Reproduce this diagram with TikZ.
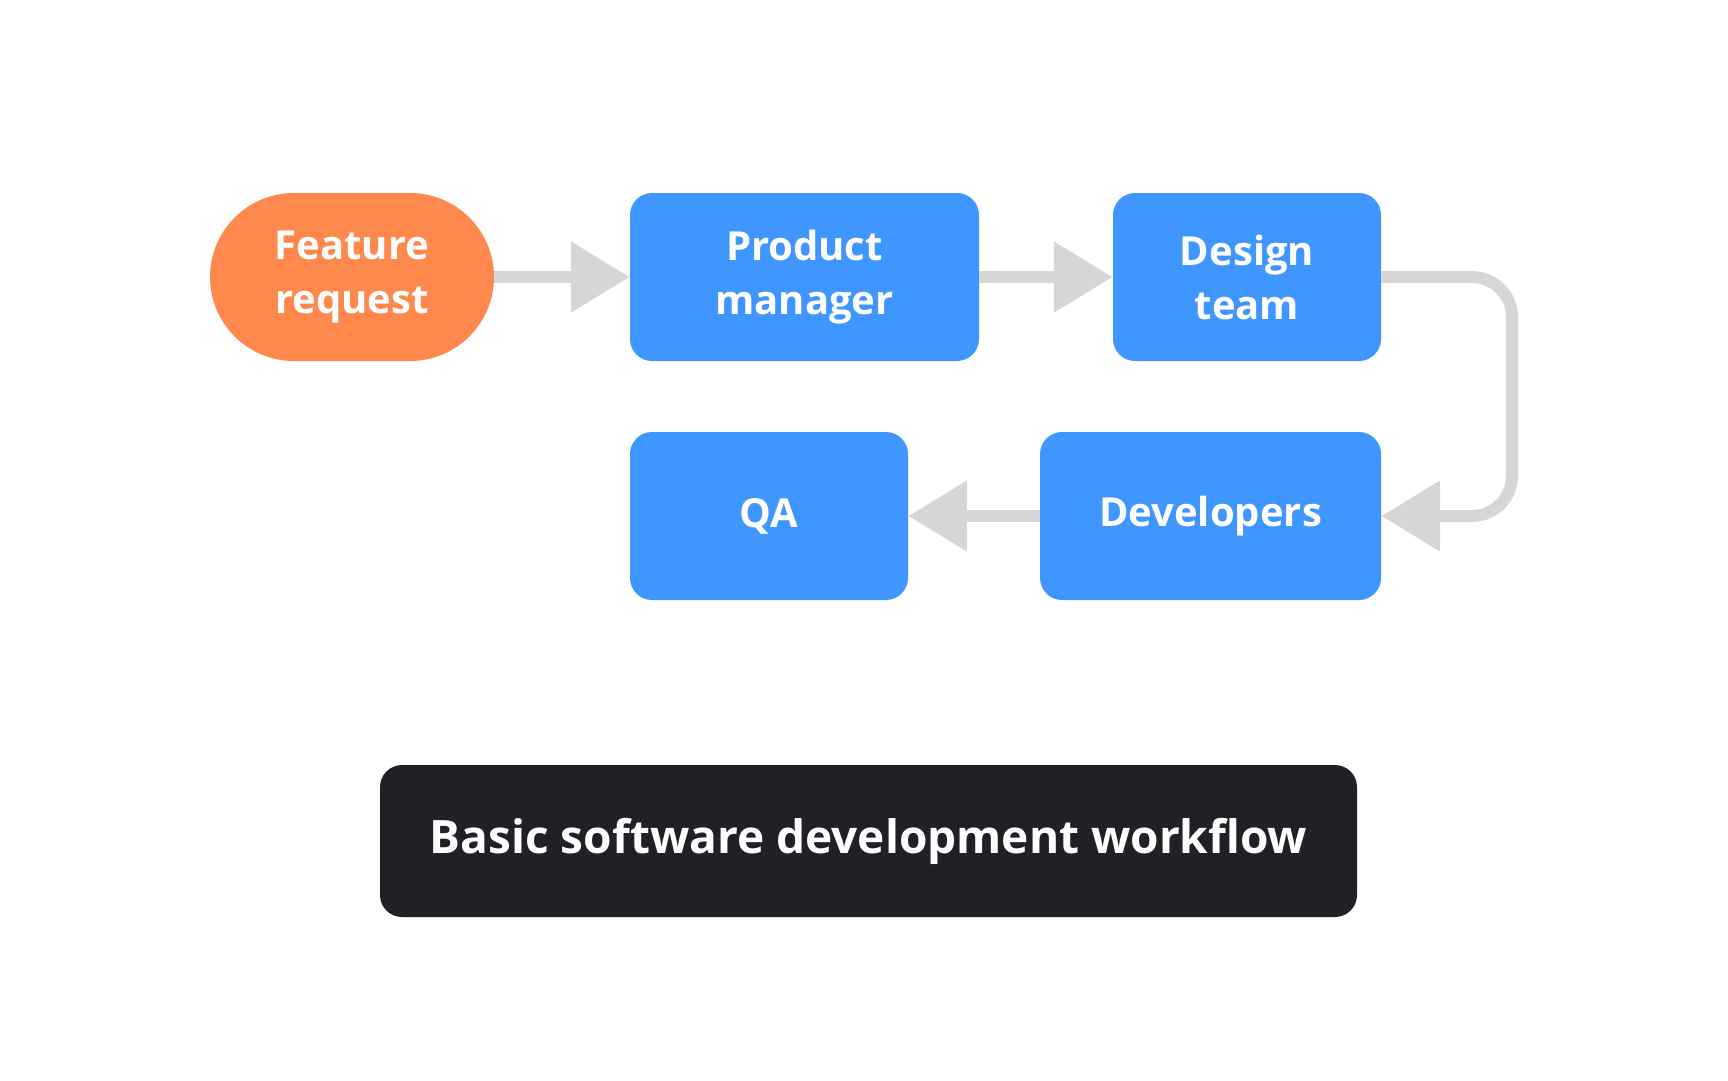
\documentclass[tikz,border=0pt]{standalone}
\usepackage{fontspec}
\setmainfont{Open Sans}
\usetikzlibrary{arrows.meta}
\definecolor{bblue}{HTML}{4096FF}
\definecolor{borange}{HTML}{FF884D}
\definecolor{bdark}{HTML}{202127}
\definecolor{bline}{HTML}{D6D6D8}
\begin{document}
\begin{tikzpicture}[x=1pt,y=-1pt,
  box/.style={fill=bblue,rounded corners=22pt,text=white,align=center,
    font=\fontsize{40}{54}\selectfont\bfseries,inner sep=0pt},
  conn/.style={draw=bline,line width=12pt,-{Triangle[length=59pt,width=68pt]}}]
\useasboundingbox (0,0) rectangle (1728,1080);
\path[fill=borange,rounded corners=84pt] (210,193) rectangle (494,361);
\node[text=white,align=center,font=\fontsize{40}{54}\selectfont\bfseries] (fr) at (352,277) {Feature\\request};
\coordinate (frE) at (494,277);
\node[box,minimum width=349pt,minimum height=168pt] (pm) at (804.5,277) {Product\\manager};
\node[box,minimum width=268pt,minimum height=168pt] (dt) at (1247,277) {Design\\team};
\node[box,minimum width=341pt,minimum height=168pt] (dev) at (1210.5,516) {Developers};
\node[box,minimum width=278pt,minimum height=168pt] (qa) at (769,516) {QA};
\node[fill=bdark,rounded corners=22pt,text=white,minimum width=977pt,minimum height=152pt,
  font=\fontsize{46}{54}\selectfont\bfseries] (title) at (868.5,841) {Basic software development workflow};
\draw[conn] (frE) -- (pm);
\draw[conn] (pm) -- (dt);
\draw[conn,rounded corners=40pt] (dt.east) -- (1512,277) -- (1512,516) -- (dev.east);
\draw[conn] (dev) -- (qa);
\end{tikzpicture}
\end{document}
